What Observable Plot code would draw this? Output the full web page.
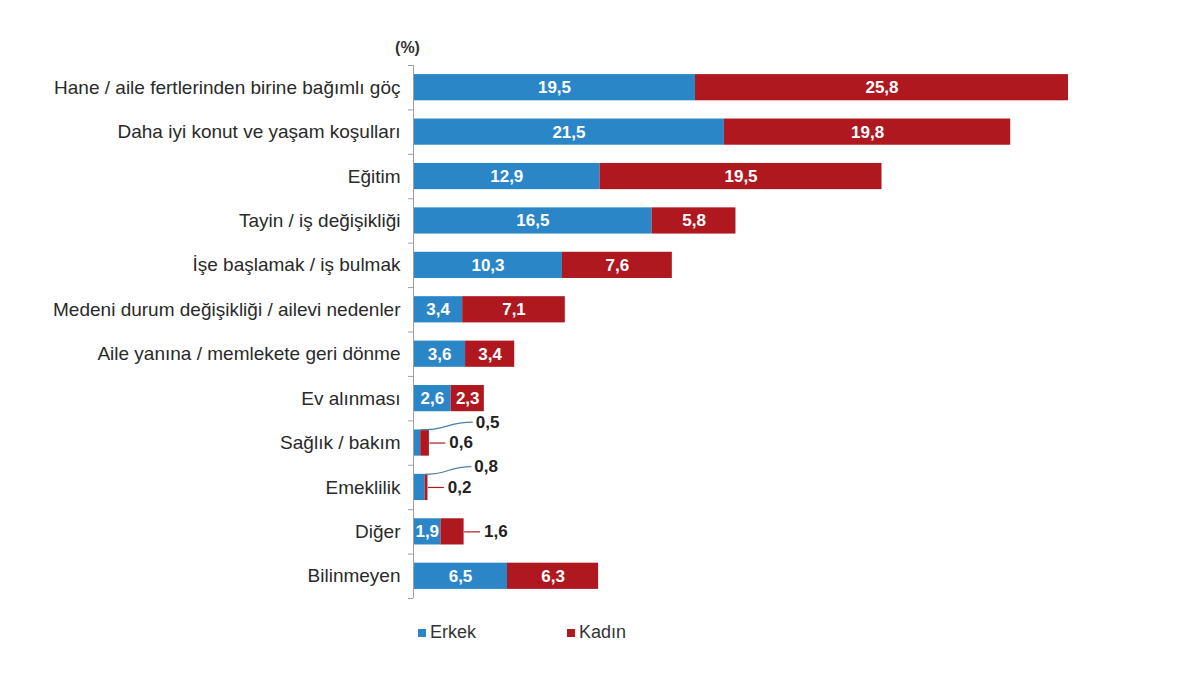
<!DOCTYPE html>
<html>
<head>
<meta charset="utf-8">
<script src="https://cdn.jsdelivr.net/npm/d3@7"></script>
<script src="https://cdn.jsdelivr.net/npm/@observablehq/plot@0.6"></script>
<style>
  body { margin: 0; background: #fff; font-family: "Liberation Sans", Arial, sans-serif; }
  #wrap { position: relative; width: 1200px; height: 675px; }
  #legend { position: absolute; top: 622px; left: 0; width: 1200px; font-size: 18px; color: #333; }
  .item { position: absolute; display: flex; align-items: center; }
  .sw { width: 8px; height: 8px; margin-right: 4px; }
</style>
</head>
<body>
<div id="wrap">
  <div id="chart"></div>
  <div id="legend"></div>
</div>
<script>
const categories = [
  "Hane / aile fertlerinden birine bağımlı göç",
  "Daha iyi konut ve yaşam koşulları",
  "Eğitim",
  "Tayin / iş değişikliği",
  "İşe başlamak / iş bulmak",
  "Medeni durum değişikliği / ailevi nedenler",
  "Aile yanına / memlekete geri dönme",
  "Ev alınması",
  "Sağlık / bakım",
  "Emeklilik",
  "Diğer",
  "Bilinmeyen"
];
const erkek = [19.5, 21.5, 12.9, 16.5, 10.3, 3.4, 3.6, 2.6, 0.5, 0.8, 1.9, 6.5];
const kadin = [25.8, 19.8, 19.5, 5.8, 7.6, 7.1, 3.4, 2.3, 0.6, 0.2, 1.6, 6.3];
const seriesNames = ["Erkek", "Kadın"];
const colors = ["#2b86c7", "#b0181f"];

const fmt = v => String(v.toFixed(1)).replace(".", ",");

// build segments
const segs = [];
categories.forEach((c, i) => {
  segs.push({i, s: "Erkek", x1: 0, x2: erkek[i], v: erkek[i], total: erkek[i] + kadin[i]});
  segs.push({i, s: "Kadın", x1: erkek[i], x2: erkek[i] + kadin[i], v: kadin[i], total: erkek[i] + kadin[i]});
});
const inside = segs.filter(d => d.v >= 1.8);
const outUp = segs.filter(d => d.v < 1.8 && d.s === "Erkek");
const outRight = segs.filter(d => d.v < 1.8 && d.s === "Kadın");

const half = 0.295;
const n = categories.length;

const plot = Plot.plot({
  width: 1200,
  height: 610,
  marginLeft: 413,
  marginRight: 64,
  marginTop: 65,
  marginBottom: 12,
  style: {fontFamily: "'Liberation Sans', Arial, sans-serif", background: "#fff"},
  x: {domain: [0, 50], axis: null, label: null},
  y: {domain: [n - 0.5, -0.5], axis: null, label: null},
  color: {domain: seriesNames, range: colors},
  marks: [
    Plot.rectX(segs, {x1: "x1", x2: "x2", y1: d => d.i - half, y2: d => d.i + half, fill: "s"}),
    Plot.ruleX([0], {stroke: "#a0a0a0", strokeWidth: 1}),
    // boundary ticks
    Plot.axisY(d3.range(n + 1).map(k => k - 0.5), {anchor: "left", label: null, tickSize: 5, stroke: "#a0a0a0", tickFormat: () => ""}),
    // category labels
    Plot.axisY(d3.range(n), {anchor: "left", label: null, tickSize: 0, tickPadding: 13, tickFormat: k => categories[k], fontSize: 19, fill: "#2a2a2a"}),
    // inside value labels
    Plot.text(inside, {x: d => (d.x1 + d.x2) / 2, y: "i", text: d => fmt(d.v), fill: "white", fontWeight: "bold", fontSize: 17}),
    // leader lines up
    Plot.link(outUp, {x1: "x2", y1: d => d.i - half, x2: d => d.total + 3, y2: d => d.i - 0.47, stroke: "#4a7fa8", strokeWidth: 1.2, curve: "bump-x"}),
    Plot.text(outUp, {x: d => d.total + 3, y: d => d.i - 0.47, dx: 3, text: d => fmt(d.v), textAnchor: "start", fill: "#222", fontWeight: "bold", fontSize: 17}),
    // leader lines right
    Plot.link(outRight, {x1: "x2", y1: "i", x2: d => d.x2 + 1.1, y2: "i", stroke: "#b0181f", strokeWidth: 1.2}),
    Plot.text(outRight, {x: d => d.x2 + 1.1, y: "i", dx: 4, text: d => fmt(d.v), textAnchor: "start", fill: "#222", fontWeight: "bold", fontSize: 17}),
    // unit label
    Plot.text(["(%)"], {x: 0, y: -0.5, dx: -6, dy: -18, text: d => d, fill: "#333", fontWeight: "bold", fontSize: 16})
  ]
});
document.getElementById("chart").appendChild(plot);

const legend = document.getElementById("legend");
const legendX = [418, 567];
seriesNames.forEach((s, k) => {
  const it = document.createElement("div");
  it.className = "item";
  it.style.left = legendX[k] + "px";
  it.innerHTML = `<span class="sw" style="background:${colors[k]}"></span><span>${s}</span>`;
  legend.appendChild(it);
});
</script>
</body>
</html>
